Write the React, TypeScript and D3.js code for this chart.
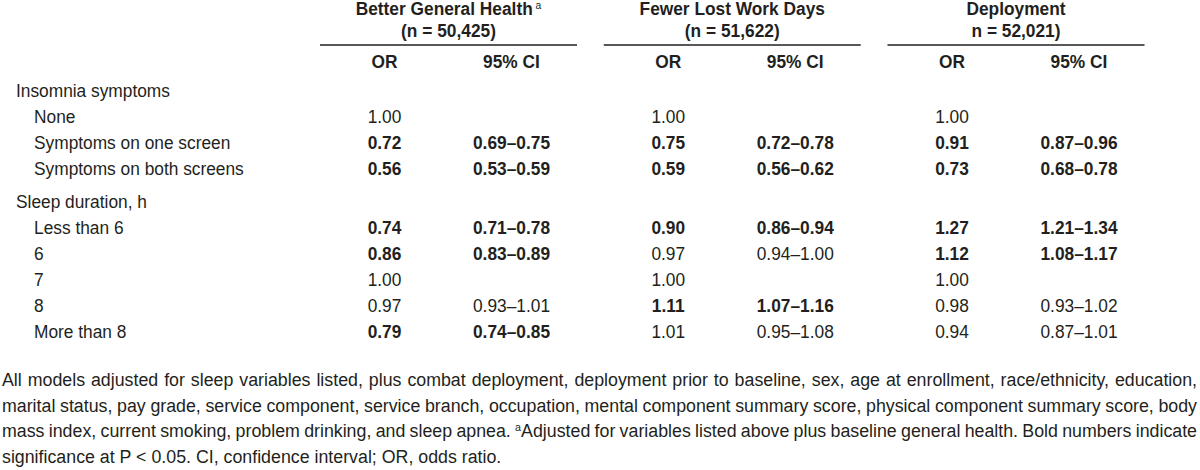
import React, { useEffect, useRef } from "react";
import * as d3 from "d3";

const W = 1200;
const H = 470;
const INK = "#231f20";
const FONT = "'Liberation Sans Narrow', 'Arial Narrow', 'Liberation Sans', Arial, sans-serif";

// ---------- data ----------
const rowLabels = [
  "Insomnia symptoms",
  "None",
  "Symptoms on one screen",
  "Symptoms on both screens",
  "Sleep duration, h",
  "Less than 6",
  "6",
  "7",
  "8",
  "More than 8",
];
const rowLevel = [0, 1, 1, 1, 0, 1, 1, 1, 1, 1];
const rowSection = [0, 0, 0, 0, 1, 1, 1, 1, 1, 1];

const outcomes = ["Better General Health", "Fewer Lost Work Days", "Deployment"];
const outcomeSup = ["a", "", ""];
const outcomeN = ["(n = 50,425)", "(n = 51,622)", "n = 52,021)"];
const subHeaders = ["OR", "95% CI"];

const orBGH = [null, 1.0, 0.72, 0.56, null, 0.74, 0.86, 1.0, 0.97, 0.79];
const ciLoBGH = [null, null, 0.69, 0.53, null, 0.71, 0.83, null, 0.93, 0.74];
const ciHiBGH = [null, null, 0.75, 0.59, null, 0.78, 0.89, null, 1.01, 0.85];
const sigBGH = [false, false, true, true, false, true, true, false, false, true];

const orFLWD = [null, 1.0, 0.75, 0.59, null, 0.9, 0.97, 1.0, 1.11, 1.01];
const ciLoFLWD = [null, null, 0.72, 0.56, null, 0.86, 0.94, null, 1.07, 0.95];
const ciHiFLWD = [null, null, 0.78, 0.62, null, 0.94, 1.0, null, 1.16, 1.08];
const sigFLWD = [false, false, true, true, false, true, false, false, true, false];

const orDep = [null, 1.0, 0.91, 0.73, null, 1.27, 1.12, 1.0, 0.98, 0.94];
const ciLoDep = [null, null, 0.87, 0.68, null, 1.21, 1.08, null, 0.93, 0.87];
const ciHiDep = [null, null, 0.96, 0.78, null, 1.34, 1.17, null, 1.02, 1.01];
const sigDep = [false, false, true, true, false, true, true, false, false, false];

const footnoteLines = [
  "All models adjusted for sleep variables listed, plus combat deployment, deployment prior to baseline, sex, age at enrollment, race/ethnicity, education,",
  "marital status, pay grade, service component, service branch, occupation, mental component summary score, physical component summary score, body",
  "mass index, current smoking, problem drinking, and sleep apnea. |a|Adjusted for variables listed above plus baseline general health. Bold numbers indicate",
  "significance at P < 0.05. CI, confidence interval; OR, odds ratio.",
];

export default function App() {
  const ref = useRef<SVGSVGElement>(null);

  useEffect(() => {
    const svg = d3.select(ref.current as SVGSVGElement);
    svg.selectAll("*").remove();
    const g = svg.append("g").attr("font-family", FONT).attr("fill", INK);

    const FS = 18.5;
    const FOOT_FS = 19;

    // horizontal scale to match the condensed face of the reference
    const probe = g.append("text").attr("font-size", FS).text(rowLabels[3]);
    const natural = (probe.node() as SVGTextElement).getComputedTextLength();
    probe.remove();
    const sx = 210 / natural;

    const addText = (
      x: number,
      y: number,
      s: string,
      opts: { anchor?: string; bold?: boolean; size?: number } = {}
    ) =>
      g
        .append("text")
        .attr("transform", `translate(${x},${y}) scale(${sx},1)`)
        .attr("text-anchor", opts.anchor || "start")
        .attr("font-weight", opts.bold ? "bold" : "normal")
        .attr("font-size", opts.size || FS)
        .text(s);

    const groups = [
      { or: orBGH, lo: ciLoBGH, hi: ciHiBGH, sig: sigBGH },
      { or: orFLWD, lo: ciLoFLWD, hi: ciHiFLWD, sig: sigFLWD },
      { or: orDep, lo: ciLoDep, hi: ciHiDep, sig: sigDep },
    ];

    const xGroup = d3.scalePoint<string>().domain(outcomes).range([448.5, 1016]);
    const xSub = d3.scalePoint<string>().domain(subHeaders).range([-64, 63]);
    const halfLine = 128.5;

    const yRow = (i: number) => 97 + i * 26 + rowSection[i] * 7;
    const f2 = d3.format(".2f");

    // headers
    outcomes.forEach((name, k) => {
      const cx = xGroup(name) as number;
      const t = addText(cx, 15, name, { anchor: "middle", bold: true });
      if (outcomeSup[k]) {
        t.append("tspan")
          .attr("dx", 3)
          .attr("dy", -6)
          .attr("font-size", 11)
          .attr("font-weight", "normal")
          .text(outcomeSup[k]);
      }
      addText(cx, 37, outcomeN[k], { anchor: "middle", bold: true });
      g.append("line")
        .attr("x1", cx - halfLine)
        .attr("x2", cx + halfLine)
        .attr("y1", 45)
        .attr("y2", 45)
        .attr("stroke", INK)
        .attr("stroke-width", 1.3);
      subHeaders.forEach((sh) => {
        addText(cx + (xSub(sh) as number), 68, sh, { anchor: "middle", bold: true });
      });
    });

    // row labels
    rowLabels.forEach((lab, i) => {
      addText(rowLevel[i] ? 34 : 16, yRow(i), lab);
    });

    // values
    groups.forEach((gr, k) => {
      const cx = xGroup(outcomes[k]) as number;
      rowLabels.forEach((_, i) => {
        const y = yRow(i);
        const or = gr.or[i];
        if (or != null) {
          addText(cx + (xSub("OR") as number), y, f2(or), { anchor: "middle", bold: gr.sig[i] });
        }
        const lo = gr.lo[i];
        const hi = gr.hi[i];
        if (lo != null && hi != null) {
          addText(cx + (xSub("95% CI") as number), y, `${f2(lo)}\u2013${f2(hi)}`, {
            anchor: "middle",
            bold: gr.sig[i],
          });
        }
      });
    });

    // footnote (justified)
    const footLeft = 2;
    const footRight = 1197;
    footnoteLines.forEach((line, i) => {
      const y = 386 + i * 25.7;
      const t = g
        .append("text")
        .attr("transform", `translate(${footLeft},${y}) scale(${sx},1)`)
        .attr("font-size", FOOT_FS);
      const parts = line.split("|");
      parts.forEach((p, j) => {
        if (j % 2 === 1) {
          t.append("tspan").attr("dy", -6).attr("font-size", 11.5).text(p);
        } else {
          const ts = t.append("tspan").text(p);
          if (j > 0) ts.attr("dy", 6);
        }
      });
      if (i < footnoteLines.length - 1) {
        const len = (t.node() as SVGTextElement).getComputedTextLength();
        const spaces = (line.match(/ /g) || []).length;
        const extra = ((footRight - footLeft) / sx - len) / spaces;
        t.attr("word-spacing", extra);
      }
    });
  }, []);

  return (
    <svg
      ref={ref}
      width={W}
      height={H}
      viewBox={`0 0 ${W} ${H}`}
      style={{ position: "absolute", left: 0, top: 0, background: "#fff" }}
    />
  );
}
